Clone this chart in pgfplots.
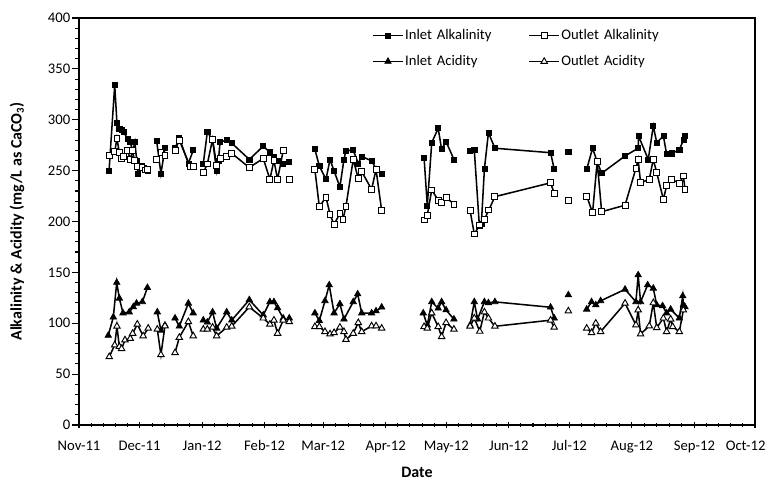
\documentclass[border=0pt]{standalone}
\usepackage{pgfplots}
\pgfplotsset{compat=1.18}
\usepackage{fontspec}
\setmainfont{Carlito}
\begin{document}
\begin{tikzpicture}
\useasboundingbox (-59.25pt,-44.25pt) rectangle (516.75pt,318.75pt);
\begin{axis}[
  at={(0,0)}, anchor=south west,
  scale only axis, width=507pt, height=305.25pt,
  xmin=0, xmax=335, ymin=0, ymax=400,
  unbounded coords=jump,
  axis line style={line width=1.1pt},
  tick style={black, line width=0.8pt},
  tick pos=left,
  major tick length=5pt, minor tick length=3pt,
  xtick={0,30,61,92,121,152,182,213,243,274,305,335},
  xticklabels={Nov-11,Dec-11,Jan-12,Feb-12,Mar-12,Apr-12,May-12,Jun-12,Jul-12,Aug-12,Sep-12,{\makebox[33pt][c]{\hspace*{-14pt}Oct-12}}},
  minor xtick={6,12,18,24,36.2,42.4,48.6,54.8,67.2,73.4,79.6,85.8,97.8,103.6,109.4,115.2,127.2,133.4,139.6,145.8,158,164,170,176,188.2,194.4,200.6,206.8,219,225,231,237,249.2,255.4,261.6,267.8,280.2,286.4,292.6,298.8,311,317,323,329},
  ytick={0,50,...,400},
  minor y tick num=4,
  x tick style={/pgfplots/tick align=center},
  y tick style={/pgfplots/tick align=outside},
  /pgf/number format/assume math mode=true,
  ticklabel style={font=\fontsize{11}{13}\selectfont},
  xticklabel style={yshift=-8.25pt},
  yticklabel style={xshift=-3pt},
  xlabel={Date},
  ylabel={Alkalinity \& Acidity (mg/L as CaCO\textsubscript{3})},
  label style={font=\fontsize{12}{14}\selectfont\bfseries},
  xlabel style={at={(axis description cs:0.5,-0.1155)}, anchor=center},
  ylabel style={at={(axis description cs:-0.0917,0.5)}, anchor=center, rotate=0},
  legend columns=2,
  legend cell align=left,
  legend style={at={(axis description cs:0.4334,0.987)}, anchor=north west, draw=none, fill=none, inner sep=0pt,
    font=\fontsize{11}{13}\selectfont,
    nodes={text width=91.5pt, align=left, text height=8pt, text depth=2.5pt, inner xsep=1pt, inner ysep=3.7pt},
    column sep=0pt, row sep=1.6pt},
  legend image code/.code={\draw[mark repeat=2,mark phase=2,#1] plot coordinates {(0pt,0pt)(11.25pt,0pt)(22.5pt,0pt)};},
  every axis plot/.append style={black, line width=1.15pt},
]
\addplot[mark=square*, mark size=1.9pt, mark options={fill=black, line width=0.5pt}] coordinates {
(14.9,250)(17.7,334)(18.8,297)(20,291)(21.1,290)(22.1,288)(24.1,281)(25.4,278)(26.6,269)(27.7,278)(28.6,260)(29.2,247)(31.2,255)(32.3,253)(34,250)
(36,nan)
(38.5,279)(40.6,247)(42.6,272)
(45,nan)
(47.6,272)(49.7,282)(54.2,257)(56.6,270)
(59,nan)
(61.6,257)(63.6,288)(66.2,280)(68.2,250)(69.1,260)(69.9,278)(73.2,280)(75.7,277)(84.4,261)(91.3,274)(94.6,268)(96.6,264)(98.4,260)(101.2,257)
(103,nan)
(104.2,259)
(110,nan)
(116.9,271)(119.1,254.5)(122.4,241.5)(124.4,261)(126.4,249.6)(129.3,234)(131.3,261)(132.3,269.6)(135.9,270)(138.4,257)(140.1,264)(145,259.5)(147.2,252)(150,247)
(160,nan)
(171,263)(172.6,215.5)(174.8,277.5)(178,291.6)(179.7,271)(181.9,278.5)(185.8,261)
(190,nan)
(193.8,269.6)(195.9,270)(198.4,196)(199.4,198)(200.9,251.6)(202.9,287.3)(206.1,272)(233.7,267.6)(235.5,251.3)
(240,nan)
(242.5,268.6)
(245,nan)
(251.6,251.3)(254.5,272)(256.8,258.8)(259,247.4)(270.6,264.4)(277.1,272)(277.3,284)(282.1,261)(284.6,293.9)(286.3,277.5)(289.6,284)(291.2,266.3)(293.7,267)(297.5,270.3)(299.5,280)(300.3,284)
};
\addlegendentry{Inlet Alkalinity}
\addplot[mark=square*, mark size=2.2pt, mark options={fill=white, line width=0.7pt}] coordinates {
(14.9,265)(17.7,268.6)(18.8,281.8)(20,267.6)(21.1,262)(22.1,263.7)(24.1,269.6)(25.4,261)(26.6,270)(27.4,260)(28.9,254.5)(31.2,253)(32.8,250.6)(34,251)
(36,nan)
(38.5,261)(40.6,268)(42.6,265)
(45,nan)
(47.6,270)(49.7,280)(55,254.5)(56.6,254.5)
(59,nan)
(61.6,248)(63.6,256.5)(66.2,281)(68.2,255)(69.9,262)(73.2,264)(75.7,267)(84.4,253)(91.3,262)(94.6,241.5)(96.6,260)(98.4,241.5)(101.2,269.6)
(103,nan)
(104.2,241)
(110,nan)
(116.9,251)(119.1,214.5)(122.4,224)(124.4,207)(126.4,197)(129.3,208)(130.8,202)(132.3,215)(135.9,261)(138.4,242)(140.1,249)(145,231.6)(147.2,251)(150,210.6)
(160,nan)
(171,201.5)(172.6,206)(174.8,231)(178,221)(179.7,218.5)(181.9,223.8)(185.8,217)
(190,nan)
(193.8,210.6)(195.9,187.7)(198.6,196.6)(200.9,202)(203.1,211.3)(206.1,224.4)(233.7,238)(235.5,227.7)
(240,nan)
(242.5,220.4)
(245,nan)
(251.6,225)(254.5,208.6)(256.8,258.8)(259,209.6)(270.6,216)(276,252.3)(277.1,261)(278.3,238)(282.6,241.5)(284.6,261)(286.3,248)(289.6,221.8)(291.2,235)(293.7,241.5)(297.5,237.6)(299.5,244.7)(300.3,231.6)
};
\addlegendentry{Outlet Alkalinity}
\addplot[mark=triangle*, mark size=2.8pt, mark options={fill=black, line width=0.5pt}] coordinates {
(14.5,88)(17,106)(18.7,140)(20,124.5)(21.8,110)(24.9,111)(26.9,116)(28.5,119.6)(31.4,121)(33.9,135)
(36,nan)
(38.8,111)(40.6,93)(42.6,98)
(45,nan)
(47.6,105)(49.7,97)(54.2,119.6)(56.6,110)
(59,nan)
(61.6,103)(63.6,101)(66.2,111)(68.2,95)(73.2,111)(75.7,103)(84.4,123)(91.3,108)(94.6,121)(96.6,121)(98.4,115)(101.2,105)
(103,nan)
(104.2,105)
(110,nan)
(116.9,110)(119.1,102.5)(121.9,122)(124,137.6)(126.4,110)(129.3,119)(131.3,104)(135.9,121)(138.1,128.7)(140.1,110)(145,110)(147.2,112)(150,115.7)
(160,nan)
(170.6,110)(172.6,98)(174.8,121)(178,114.7)(179.7,121)(181.9,113)(185.8,104)
(190,nan)
(193.8,98)(195.9,121)(197.5,104)(200.9,121)(202.9,120)(206.1,121)(233.7,115.7)(235.5,105)
(240,nan)
(242.5,127.8)
(245,nan)
(251.6,113.7)(254,121)(256.1,118)(258.5,122)(270.6,133.3)(276,121)(277.1,147.4)(278.3,121)(281.8,137.6)(284.6,134.3)(286.3,118)(289.2,117)(291.2,110)(293.2,113.7)(297.5,105)(299.2,126.8)(299.5,118)(300.3,116)
};
\addlegendentry{Inlet Acidity}
\addplot[mark=triangle*, mark size=2.8pt, mark options={fill=white, line width=0.7pt}] coordinates {
(15,67)(17.7,78.6)(18.8,97)(20,77)(21.1,75)(22.8,83.5)(25.4,85)(26.6,90)(28.9,99)(31.8,87.5)(34.3,95)
(36,nan)
(38.8,94)(40.6,69)(42.6,97.3)
(45,nan)
(47.6,71)(49.7,86)(54.2,101.5)(56.6,87.5)
(59,nan)
(61.6,94)(63.6,94)(66.2,96)(68.2,87.5)(73.2,96)(75.7,97)(84.4,116)(91.3,105)(94.6,99)(96.6,103)(98.4,90)(101.2,103)
(103,nan)
(104.2,101.5)
(110,nan)
(116.9,96.6)(119.1,96.6)(121.9,91.7)(124.4,89.4)(126.4,90.7)(129.3,96)(131.3,91.7)(132.3,84)(135.9,90)(138.4,100.5)(140.1,91.7)(145,97.3)(147.2,97.3)(150,95)
(160,nan)
(171,96.6)(172.6,95)(174.8,110)(178,96.6)(179.7,86.8)(181.9,100.5)(185.8,94)
(190,nan)
(193.8,97)(195.9,105)(198.6,92)(200.9,111)(202.9,105)(206.1,97)(233.7,103)(235.5,96)
(240,nan)
(242.5,112)
(245,nan)
(251.6,95)(254,90.7)(256.1,100)(258.5,91.7)(270.6,119.6)(276,98.3)(277.1,113)(278.3,89.4)(282.6,97.3)(284.6,120)(286.3,95.6)(289.6,105)(291.2,91.7)(293.2,104)(294.2,96.6)(297.5,91.7)(299.5,113)
};
\addlegendentry{Outlet Acidity}
\end{axis}
\end{tikzpicture}
\end{document}
